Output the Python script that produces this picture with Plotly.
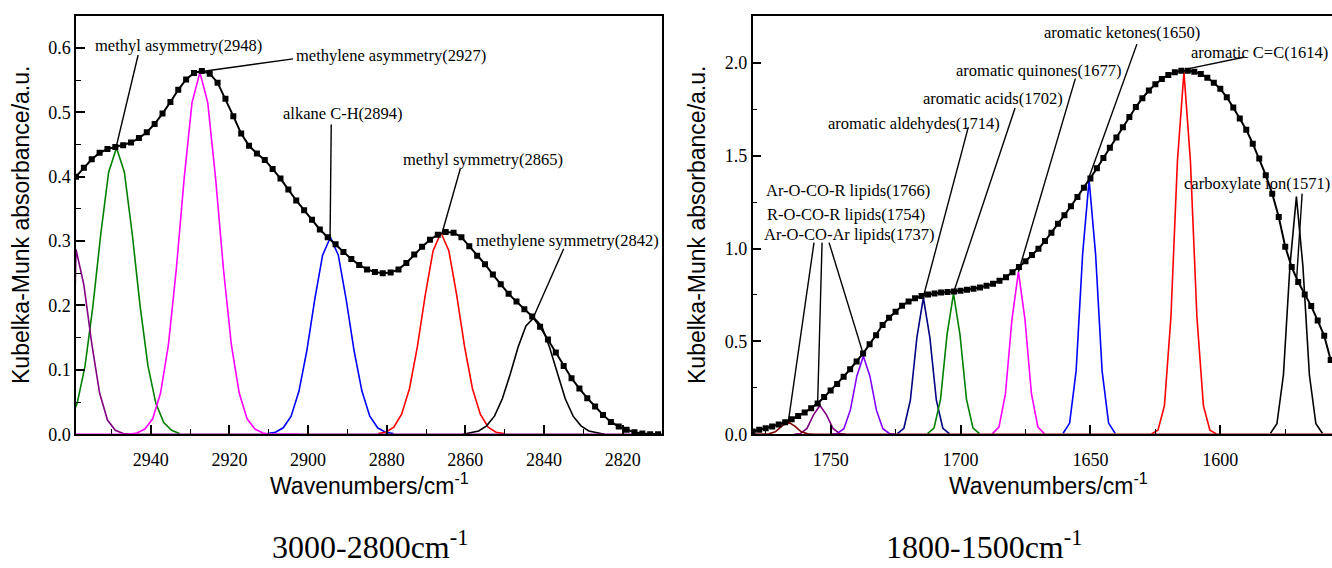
import numpy as np
import plotly.graph_objects as go

# ---------------- data ----------------
# Left panel (3000-2800 cm-1): total spectrum, sampled every 2 cm-1 from 2959
left_start = 2959.0
left_step = 2.0
left_total = [0.400, 0.414, 0.427, 0.437, 0.443, 0.446, 0.449, 0.453, 0.460, 0.469,
              0.482, 0.498, 0.516, 0.535, 0.551, 0.561, 0.564, 0.560, 0.546, 0.521,
              0.494, 0.467, 0.448, 0.436, 0.426, 0.412, 0.397, 0.380, 0.363, 0.348,
              0.333, 0.318, 0.306, 0.295, 0.283, 0.272, 0.263, 0.256, 0.252, 0.250,
              0.251, 0.256, 0.266, 0.279, 0.291, 0.302, 0.310, 0.314, 0.313, 0.306,
              0.292, 0.277, 0.264, 0.248, 0.233, 0.218, 0.206, 0.194, 0.183, 0.167,
              0.147, 0.127, 0.106, 0.087, 0.071, 0.056, 0.043, 0.030, 0.019, 0.012,
              0.007, 0.003, 0.001, 0.000, 0.000]

# Left panel fitted bands (start wavenumber, values every 2 cm-1)
l_purple_start = 2959.0
l_purple = [0.287, 0.232, 0.141, 0.064, 0.022, 0.006, 0.001, 0.0]
l_green_start = 2960.7
l_green = [0.018, 0.048, 0.106, 0.199, 0.311, 0.407, 0.445, 0.407, 0.311, 0.199,
           0.106, 0.048, 0.018, 0.006, 0.001]
l_magenta_start = 2945.5
l_magenta = [0.0, 0.002, 0.008, 0.024, 0.064, 0.139, 0.256, 0.397, 0.515, 0.562,
             0.515, 0.397, 0.256, 0.139, 0.064, 0.024, 0.008, 0.002, 0.0]
l_blue_start = 2910.3
l_blue = [0.001, 0.003, 0.010, 0.028, 0.067, 0.130, 0.209, 0.278, 0.306, 0.278,
          0.209, 0.130, 0.067, 0.028, 0.010, 0.003, 0.001]
l_red_start = 2882.2
l_red = [0.001, 0.003, 0.011, 0.031, 0.071, 0.136, 0.216, 0.285, 0.313, 0.285,
         0.216, 0.136, 0.071, 0.031, 0.011, 0.003, 0.001]
l_black_start = 2860.6
l_black = [0.0, 0.002, 0.005, 0.013, 0.028, 0.055, 0.093, 0.135, 0.168, 0.181,
           0.168, 0.135, 0.093, 0.055, 0.028, 0.013, 0.005, 0.002, 0.0]

# Right panel (1800-1500 cm-1): total spectrum, sampled every 2.5 cm-1 from 1780
right_start = 1780.0
right_step = 2.5
right_total = [0.015, 0.024, 0.032, 0.042, 0.052, 0.064, 0.080, 0.098, 0.117, 0.140,
               0.166, 0.200, 0.235, 0.271, 0.310, 0.350, 0.391, 0.435, 0.484, 0.533,
               0.588, 0.627, 0.660, 0.692, 0.715, 0.732, 0.745, 0.752, 0.758, 0.763,
               0.766, 0.769, 0.773, 0.778, 0.783, 0.790, 0.799, 0.811, 0.826, 0.846,
               0.872, 0.901, 0.932, 0.965, 0.999, 1.040, 1.085, 1.133, 1.180, 1.228,
               1.278, 1.327, 1.377, 1.432, 1.488, 1.543, 1.598, 1.653, 1.708, 1.762,
               1.810, 1.851, 1.885, 1.913, 1.935, 1.950, 1.958, 1.958, 1.952, 1.940,
               1.920, 1.893, 1.860, 1.815, 1.760, 1.700, 1.640, 1.565, 1.485, 1.395,
               1.295, 1.170, 1.010, 0.900, 0.820, 0.752, 0.690, 0.612, 0.530, 0.400]

# Right panel fitted bands (start wavenumber, values every 2.5 cm-1)
r_maroon_start = 1776.3
r_maroon = [0.0, 0.002, 0.013, 0.044, 0.066, 0.044, 0.013, 0.002, 0.0]
r_purple_start = 1764.1
r_purple = [0.0, 0.004, 0.031, 0.104, 0.155, 0.104, 0.031, 0.004, 0.0]
r_violet_start = 1749.9
r_violet = [0.0, 0.004, 0.030, 0.131, 0.314, 0.420, 0.314, 0.131, 0.030, 0.004, 0.0]
r_navy_start = 1724.3
r_navy = [0.003, 0.032, 0.183, 0.520, 0.735, 0.520, 0.183, 0.032, 0.003]
r_green_start = 1712.7
r_green = [0.003, 0.033, 0.188, 0.535, 0.757, 0.535, 0.188, 0.033, 0.003]
r_magenta_start = 1687.7
r_magenta = [0.003, 0.038, 0.218, 0.619, 0.875, 0.619, 0.218, 0.038, 0.003]
r_blue_start = 1660.5
r_blue = [0.005, 0.060, 0.341, 0.969, 1.370, 0.969, 0.341, 0.060, 0.005]
r_red_start = 1626.5
r_red = [0.002, 0.021, 0.154, 0.632, 1.472, 1.950, 1.472, 0.632, 0.154, 0.021, 0.002]
r_black_start = 1580.7
r_black = [0.005, 0.056, 0.319, 0.905, 1.280, 0.905, 0.319, 0.056, 0.005]

# Band labels: (text, label x, label y, leader start x, y, leader end x, y)
left_labels = [
    ("methyl asymmetry(2948)", 2933.0, 0.603, 2943.2, 0.589, 2948.8, 0.446),
    ("methylene asymmetry(2927)", 2879.0, 0.588, 2903.8, 0.583, 2927.4, 0.563),
    ("alkane C-H(2894)", 2891.2, 0.498, 2894.1, 0.481, 2894.4, 0.304),
    ("methyl symmetry(2865)", 2855.6, 0.426, 2861.3, 0.412, 2865.9, 0.313),
    ("methylene symmetry(2842)", 2834.1, 0.301, 2835.0, 0.288, 2842.8, 0.180),
]
right_labels = [
    ("aromatic ketones(1650)", 1637.9, 2.164, 1632.1, 2.101, 1650.7, 1.377),
    ("aromatic C=C(1614)", 1585.0, 2.058, 1591.0, 2.030, 1613.5, 1.965),
    ("aromatic quinones(1677)", 1669.9, 1.958, 1655.8, 1.915, 1677.7, 0.875),
    ("aromatic acids(1702)", 1687.6, 1.810, 1679.0, 1.757, 1702.7, 0.762),
    ("aromatic aldehydes(1714)", 1717.9, 1.672, 1697.0, 1.654, 1714.3, 0.741),
    ("Ar-O-CO-R lipids(1766)", 1743.3, 1.312, 1756.4, 1.032, 1766.3, 0.066),
    ("R-O-CO-R lipids(1754)", 1743.9, 1.185, 1753.3, 1.032, 1755.0, 0.168),
    ("Ar-O-CO-Ar lipids(1737)", 1742.9, 1.074, 1750.6, 1.032, 1737.4, 0.430),
    ("carboxylate ion(1571)", 1586.0, 1.349, 1568.5, 1.296, 1570.6, 0.841),
]

left_range = [2959, 2810]
right_range = [1780, 1557]

# ---------------- figure ----------------
SERIF = "Liberation Serif"
SANS = "Liberation Sans"

fig = go.Figure()


def grid(start, step, n):
    return [start - step * i for i in range(n)]


def band(start, step, vals, color, xa, ya, base=None):
    xs = grid(start, step, len(vals))
    ys = list(vals)
    if base is not None:
        xs = [base[0]] + xs + [base[1]]
        ys = [0.0] + ys + [0.0]
    fig.add_trace(go.Scatter(x=xs, y=ys, mode="lines", xaxis=xa, yaxis=ya,
                             line=dict(color=color, width=1.6), showlegend=False,
                             hoverinfo="skip"))


# left bands
band(l_green_start, left_step, l_green, "#008000", "x", "y")
band(l_blue_start, left_step, l_blue, "#0000FF", "x", "y")
band(l_red_start, left_step, l_red, "#FF0000", "x", "y")
band(l_black_start, left_step, l_black, "#000000", "x", "y")
band(l_purple_start, left_step, l_purple, "#800080", "x", "y", base=(2960, 2809))
band(l_magenta_start, left_step, l_magenta, "#FF00FF", "x", "y", base=(2960, 2902))

# right bands
band(r_purple_start, right_step, r_purple, "#800080", "x2", "y2")
band(r_violet_start, right_step, r_violet, "#8000FF", "x2", "y2")
band(r_navy_start, right_step, r_navy, "#000080", "x2", "y2")
band(r_green_start, right_step, r_green, "#008000", "x2", "y2")
band(r_magenta_start, right_step, r_magenta, "#FF00FF", "x2", "y2")
band(r_blue_start, right_step, r_blue, "#0000FF", "x2", "y2")
band(r_red_start, right_step, r_red, "#FF0000", "x2", "y2")
band(r_black_start, right_step, r_black, "#000000", "x2", "y2")
band(r_maroon_start, right_step, r_maroon, "#800000", "x2", "y2", base=(1781, 1556))

# totals
fig.add_trace(go.Scatter(x=grid(left_start, left_step, len(left_total)), y=left_total,
                         mode="lines+markers", xaxis="x", yaxis="y",
                         line=dict(color="black", width=2),
                         marker=dict(symbol="square", size=6, color="black"),
                         showlegend=False, hoverinfo="skip"))
fig.add_trace(go.Scatter(x=grid(right_start, right_step, len(right_total)), y=right_total,
                         mode="lines+markers", xaxis="x2", yaxis="y2",
                         line=dict(color="black", width=2),
                         marker=dict(symbol="square", size=6, color="black"),
                         showlegend=False, hoverinfo="skip"))

annotations = []
shapes = []
for labels, xr, yr in ((left_labels, "x", "y"), (right_labels, "x2", "y2")):
    for txt, tx, ty, x0, y0, x1, y1 in labels:
        annotations.append(dict(text=txt, x=tx, y=ty, xref=xr, yref=yr,
                                showarrow=False, xanchor="center", yanchor="middle",
                                font=dict(family=SERIF, size=16.5, color="black")))
        shapes.append(dict(type="line", x0=x0, y0=y0, x1=x1, y1=y1, xref=xr, yref=yr,
                           line=dict(color="black", width=1.4)))

H = 568.0
W = 1332.0


def py(pix):
    return 1 - pix / H


def px(pix):
    return pix / W


title_font = dict(family=SANS, size=23, color="black")
annotations += [
    dict(text="Kubelka-Munk absorbance/a.u.", x=px(21), y=py(229), xref="paper", yref="paper",
         textangle=-90, showarrow=False, xanchor="center", yanchor="middle", font=title_font),
    dict(text="Kubelka-Munk absorbance/a.u.", x=px(697), y=py(229), xref="paper", yref="paper",
         textangle=-90, showarrow=False, xanchor="center", yanchor="middle", font=title_font),
    dict(text="Wavenumbers/cm<sup>-1</sup>", x=px(369), y=py(493), xref="paper", yref="paper",
         showarrow=False, xanchor="center", yanchor="middle", font=title_font),
    dict(text="Wavenumbers/cm<sup>-1</sup>", x=px(1048), y=py(493), xref="paper", yref="paper",
         showarrow=False, xanchor="center", yanchor="middle", font=title_font),
    dict(text="3000-2800cm<sup>-1</sup>", x=px(370), y=py(555), xref="paper", yref="paper",
         showarrow=False, xanchor="center", yanchor="middle",
         font=dict(family=SERIF, size=32, color="black")),
    dict(text="1800-1500cm<sup>-1</sup>", x=px(984), y=py(555), xref="paper", yref="paper",
         showarrow=False, xanchor="center", yanchor="middle",
         font=dict(family=SERIF, size=32, color="black")),
]


def axis_style(standoff):
    return dict(showgrid=False, zeroline=False, showline=True, linecolor="black",
                linewidth=1.5, ticks="inside", ticklen=9, tickwidth=1.5, tickcolor="black",
                ticklabelstandoff=standoff,
                tickfont=dict(family=SERIF, size=18, color="black"))


fig.update_layout(
    width=1332, height=568,
    margin=dict(l=0, r=0, t=0, b=0),
    paper_bgcolor="white", plot_bgcolor="white",
    font=dict(family=SERIF, color="black"),
    showlegend=False,
    xaxis=dict(domain=[px(76), px(662)], range=left_range, autorange=False,
               tickmode="linear", tick0=2820, dtick=20, mirror=True,
               minor=dict(dtick=10, tick0=2820, ticks="inside", ticklen=5, tickwidth=1.3,
                          tickcolor="black"),
               anchor="y", **axis_style(8)),
    yaxis=dict(domain=[py(442), py(16)], range=[0, 0.65], autorange=False,
               tickmode="linear", tick0=0, dtick=0.1, tickformat=".1f", mirror=True,
               minor=dict(dtick=0.05, tick0=0, ticks="inside", ticklen=5, tickwidth=1.3,
                          tickcolor="black"),
               anchor="x", **axis_style(0)),
    xaxis2=dict(domain=[px(752.7), 1.0], range=right_range, autorange=False,
                tickmode="linear", tick0=1600, dtick=50, mirror=True,
                minor=dict(dtick=25, tick0=1600, ticks="inside", ticklen=5, tickwidth=1.3,
                           tickcolor="black"),
                anchor="y2", **axis_style(8)),
    yaxis2=dict(domain=[py(442), py(16)], range=[0, 2.254], autorange=False,
                tickmode="linear", tick0=0, dtick=0.5, tickformat=".1f", mirror=False,
                minor=dict(dtick=0.25, tick0=0, ticks="inside", ticklen=5, tickwidth=1.3,
                           tickcolor="black"),
                anchor="x2", **axis_style(0)),
    annotations=annotations,
    shapes=shapes,
)

fig.write_html("out.html",
               config={"displayModeBar": False},
               post_script="document.body.style.margin='0px';document.body.style.overflow='hidden';")
